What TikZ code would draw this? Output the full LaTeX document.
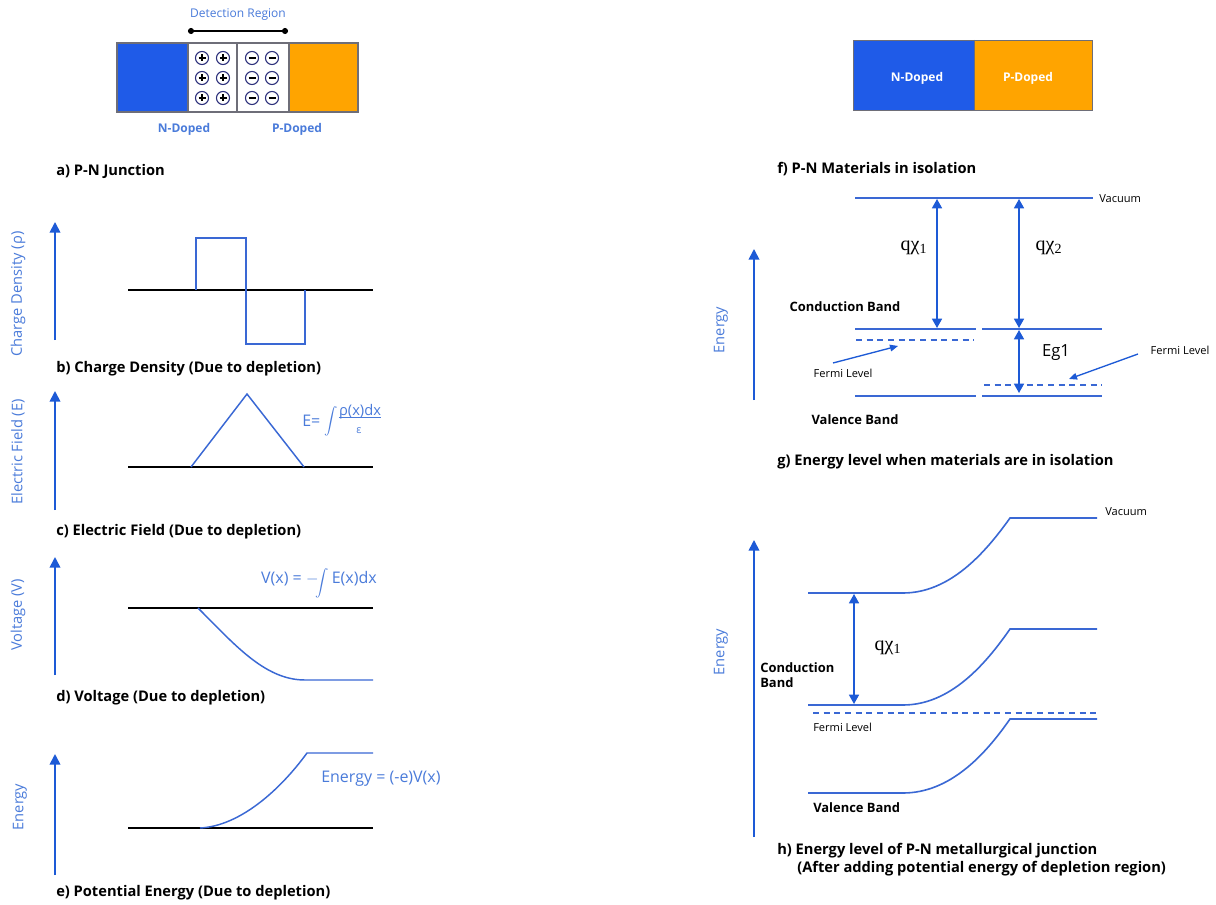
\documentclass[tikz,border=0pt]{standalone}
\usepackage{fontspec}
\setmainfont{Open Sans}
\newfontfamily\chifont{Liberation Serif}
\usetikzlibrary{arrows.meta}
\definecolor{nblue}{HTML}{1F5BE8}
\definecolor{porange}{HTML}{FFA400}
\definecolor{lblue}{HTML}{3A68D4}
\definecolor{tblue}{HTML}{4A7BDA}
\definecolor{ablue}{HTML}{1D5AD6}
\definecolor{navy}{HTML}{2B2F7A}
\definecolor{boxedge}{HTML}{6E6E78}
\newcommand{\bigint}{\raisebox{-0.2em}{$\displaystyle\int$}}
\tikzset{
  caption/.style={anchor=west, inner sep=0pt, font=\fontsize{11}{13}\selectfont\bfseries},
  axlabel/.style={rotate=90, inner sep=0pt, text=tblue, font=\fontsize{11}{13}\selectfont},
  axarrow/.style={draw=ablue, line width=1.3pt, -{Triangle[length=8pt,width=8pt]}},
  dblarrow/.style={draw=ablue, line width=1.2pt, {Triangle[length=7pt,width=7.5pt]}-{Triangle[length=7pt,width=7.5pt]}},
  fermiarrow/.style={draw=ablue, line width=1pt, -{Triangle[length=6pt,width=5pt]}},
  base/.style={draw=black, line width=1.1pt},
  curve/.style={draw=lblue, line width=1.1pt},
  band/.style={draw=lblue, line width=1.2pt},
  fermi/.style={draw=lblue, line width=1.1pt, dash pattern=on 4.5pt off 3.5pt},
  formula/.style={inner sep=0pt, text=tblue, font=\fontsize{12}{14}\selectfont},
  small/.style={inner sep=0pt, font=\fontsize{8.3}{10}\selectfont},
  bandname/.style={inner sep=0pt, font=\fontsize{9.7}{11.5}\selectfont\bfseries},
  dopetext/.style={inner sep=0pt, text=tblue, font=\fontsize{9}{11}\selectfont\bfseries},
  chi/.style={inner sep=0pt, font=\fontsize{15}{17}\selectfont\chifont},
  ion/.style={draw=navy, line width=0.8pt},
}
\begin{document}
\begin{tikzpicture}[x=0.75pt, y=-0.75pt]
\useasboundingbox[fill=white] (0,0) rectangle (1216,905);

% ---------- a) P-N junction with depletion region ----------
\fill[nblue] (117,43) rectangle (188,112);
\fill[porange] (289,43) rectangle (358,112);
\draw[boxedge, line width=0.9pt] (117,43) rectangle (358,112);
\draw[boxedge, line width=0.9pt] (188,43) -- (188,112) (237,43) -- (237,112) (289,43) -- (289,112);
\foreach \cx in {202,223} \foreach \cy in {58,78,98} {
  \draw[ion] (\cx,\cy) circle[radius=4.9pt];
  \draw[line width=0.9pt] (\cx-3.5,\cy) -- (\cx+3.5,\cy) (\cx,\cy-3.5) -- (\cx,\cy+3.5);
}
\foreach \cx in {252,272} \foreach \cy in {58,78,98} {
  \draw[ion] (\cx,\cy) circle[radius=4.9pt];
  \draw[line width=0.9pt] (\cx-3.5,\cy) -- (\cx+3.5,\cy);
}
\coordinate (detL) at (191,31);
\coordinate (detR) at (285,31);
\draw[line width=1.1pt] (detL) -- (detR);
\fill (detL) circle[radius=2.3pt] (detR) circle[radius=2.3pt];
\node[inner sep=0pt, text=tblue, font=\fontsize{9}{11}\selectfont] (det) at (238,15) {Detection Region};
\node[dopetext] (nlab) at (184,129) {N-Doped};
\node[dopetext] (plab) at (297,129) {P-Doped};
\node[caption] (capa) at (56,171) {a) P-N Junction};

% ---------- b) charge density ----------
\coordinate (bax0) at (55,340); \coordinate (bax1) at (55,222);
\draw[axarrow] (bax0) -- (bax1);
\node[axlabel] (blab) at (18,294) {Charge Density (ρ)};
\coordinate (bb0) at (128,290); \coordinate (bb1) at (373,290);
\draw[base] (bb0) -- (bb1);
\draw[curve] (196,290) -- (196,238) -- (246,238) -- (246,344) -- (305,344) -- (305,290);
\node[caption] (capb) at (56,369) {b) Charge Density (Due to depletion)};

% ---------- c) electric field ----------
\coordinate (cax0) at (55,510); \coordinate (cax1) at (55,391);
\draw[axarrow] (cax0) -- (cax1);
\node[axlabel] (clab) at (18,452) {Electric Field (E)};
\coordinate (cb0) at (128,467); \coordinate (cb1) at (373,467);
\draw[base] (cb0) -- (cb1);
\draw[curve] (191,467) -- (247,394) -- (304,467);
\node[formula, anchor=west] (ceq) at (302,421) {E=};
\node[formula, anchor=west] (cint) at (324,421) {$\displaystyle\int$};
\node[formula, font=\fontsize{11}{13}\selectfont] (cnum) at (360,412) {ρ(x)dx};
\node[formula, font=\fontsize{8}{10}\selectfont] (cden) at (359,431) {ε};
\draw[tblue, line width=0.7pt] (cnum.south west) ++(0,-2) coordinate (barL) -- (barL -| cnum.south east);
\node[caption] (capc) at (56,532) {c) Electric Field (Due to depletion)};

% ---------- d) voltage ----------
\coordinate (dax0) at (55,675); \coordinate (dax1) at (55,557);
\draw[axarrow] (dax0) -- (dax1);
\node[axlabel] (dlab) at (18,615) {Voltage (V)};
\coordinate (db0) at (128,608); \coordinate (db1) at (373,608);
\draw[base] (db0) -- (db1);
\draw[curve] (198,608) .. controls (235,645) and (265,680) .. (305,680) -- (373,680);
\node[formula, anchor=east] (dform) at (377,583) {V(x) = $-\!$\bigint\,E(x)dx};
\node[caption] (capd) at (56,698) {d) Voltage (Due to depletion)};

% ---------- e) potential energy ----------
\coordinate (eax0) at (55,875); \coordinate (eax1) at (55,754);
\draw[axarrow] (eax0) -- (eax1);
\node[axlabel] (elab) at (20,807) {Energy};
\coordinate (eb0) at (128,828); \coordinate (eb1) at (373,828);
\draw[base] (eb0) -- (eb1);
\draw[curve] (200,828) .. controls (240,826) and (280,790) .. (307,753) -- (373,753);
\node[formula, anchor=west] (eform) at (321,779) {Energy = (-e)V(x)};
\node[caption] (cape) at (56,893) {e) Potential Energy (Due to depletion)};

% ---------- f) materials in isolation ----------
\fill[nblue] (853,40) rectangle (974,110);
\fill[porange] (974,40) rectangle (1092,110);
\draw[boxedge, line width=0.7pt] (853,40) rectangle (1092,110) (974,40) -- (974,110);
\node[inner sep=0pt, text=white, font=\fontsize{9}{11}\selectfont\bfseries] (fn) at (917,78) {N-Doped};
\node[inner sep=0pt, text=white, font=\fontsize{9}{11}\selectfont\bfseries] (fp) at (1028,78) {P-Doped};
\node[caption] (capf) at (777,169) {f) P-N Materials in isolation};

% ---------- g) energy levels in isolation ----------
\coordinate (gax0) at (754,400); \coordinate (gax1) at (754,249);
\draw[axarrow] (gax0) -- (gax1);
\node[axlabel] (glab) at (721,330) {Energy};
\coordinate (vac0) at (855,198); \coordinate (vac1) at (1093,198);
\draw[band] (vac0) -- (vac1);
\node[small, anchor=west] (gvac) at (1099,199) {Vacuum};
\coordinate (cn0) at (855,329); \coordinate (cn1) at (976,329);
\coordinate (cp0) at (982,329); \coordinate (cp1) at (1102,329);
\draw[band] (cn0) -- (cn1) (cp0) -- (cp1);
\coordinate (vn0) at (855,396); \coordinate (vn1) at (976,396);
\coordinate (vp0) at (982,396); \coordinate (vp1) at (1102,396);
\draw[band] (vn0) -- (vn1) (vp0) -- (vp1);
\coordinate (fn0) at (856,340); \coordinate (fn1) at (974,340);
\coordinate (fp0) at (984,385); \coordinate (fp1) at (1102,385);
\draw[fermi] (fn0) -- (fn1) (fp0) -- (fp1);
\coordinate (chi1t) at (937,199); \coordinate (chi1b) at (937,328);
\draw[dblarrow] (chi1b) -- (chi1t);
\coordinate (chi2t) at (1019,199); \coordinate (chi2b) at (1019,328);
\draw[dblarrow] (chi2b) -- (chi2t);
\coordinate (egt) at (1019,330); \coordinate (egb) at (1019,393);
\draw[dblarrow] (egb) -- (egt);
\node[chi] (qchi1) at (914,248) {qχ\textsubscript{1}};
\node[chi] (qchi2) at (1049,248) {qχ\textsubscript{2}};
\node[inner sep=0pt, font=\fontsize{12.5}{15}\selectfont] (eg) at (1056,353) {Eg1};
\node[bandname] (gcb) at (845,307) {Conduction Band};
\node[bandname] (gvb) at (855,420) {Valence Band};
\node[small] (gfl1) at (843,373) {Fermi Level};
\node[small] (gfl2) at (1180,350) {Fermi Level};
\coordinate (fa1s) at (833,363); \coordinate (fa1e) at (898,346);
\draw[fermiarrow] (fa1s) -- (fa1e);
\coordinate (fa2s) at (1138,354); \coordinate (fa2e) at (1069,379);
\draw[fermiarrow] (fa2s) -- (fa2e);
\node[caption] (capg) at (777,462) {g) Energy level when materials are in isolation};

% ---------- h) energy levels at the metallurgical junction ----------
\coordinate (hax0) at (754,837); \coordinate (hax1) at (754,540);
\draw[axarrow] (hax0) -- (hax1);
\node[axlabel] (hlab) at (721,652) {Energy};
\coordinate (hv0) at (808,593); \coordinate (hv1) at (1097,518);
\draw[band] (hv0) -- (903,593) .. controls (950,593) and (985,553) .. (1010,518) -- (hv1);
\node[small, anchor=west] (hvac) at (1105,512) {Vacuum};
\coordinate (hc0) at (808,705); \coordinate (hc1) at (1097,629);
\draw[band] (hc0) -- (903,705) .. controls (950,705) and (985,665) .. (1010,629) -- (hc1);
\coordinate (hf0) at (813,713); \coordinate (hf1) at (1097,713);
\draw[fermi] (hf0) -- (hf1);
\coordinate (hvb0) at (808,793); \coordinate (hvb1) at (1097,719);
\draw[band] (hvb0) -- (903,793) .. controls (950,793) and (985,755) .. (1010,719) -- (hvb1);
\coordinate (hchit) at (854,594); \coordinate (hchib) at (854,704);
\draw[dblarrow] (hchib) -- (hchit);
\node[chi] (hqchi) at (888,648) {qχ\textsubscript{1}};
\node[bandname, anchor=west, align=left] (hcb) at (760,675) {Conduction\\Band};
\node[small, anchor=west] (hfl) at (813,727) {Fermi Level};
\node[bandname, anchor=west] (hvb) at (813,808) {Valence Band};
\node[caption] (caph1) at (777,851) {h) Energy level of P-N metallurgical junction};
\node[caption] (caph2) at (797,869) {(After adding potential energy of depletion region)};
\end{tikzpicture}
\end{document}
